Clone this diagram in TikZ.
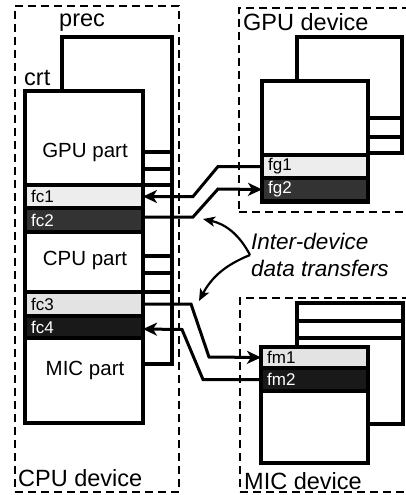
\documentclass[tikz,border=0pt]{standalone}
\usepackage{fontspec}
\setmainfont{Liberation Sans}
\usetikzlibrary{arrows.meta,positioning}

\begin{document}
\begin{tikzpicture}[x=1pt,y=-1pt,>={Stealth[length=14pt,width=13pt,inset=4pt]},
	device/.style={draw,line width=2.2pt,dash pattern=on 8pt off 5pt,anchor=north west,inner sep=0,outer sep=0},
	page/.style={draw,fill=white,line width=4pt,anchor=north west,inner sep=0,outer sep=0},
	lite/.style={page,fill=black!7},
	dark/.style={page,fill=black!80},
	tag/.style={anchor=west,xshift=6pt,inner sep=0,font=\fontsize{17}{19}\selectfont},
	lbl/.style={anchor=base west,inner sep=0,font=\fontsize{23.5}{27}\selectfont},
	part/.style={anchor=base,inner sep=0,font=\fontsize{20.5}{24}\selectfont},
	rung/.style={line width=4pt},
	xfer/.style={->,line width=3pt},
	hint/.style={-{Stealth[length=12pt,width=10pt,inset=3pt]},line width=2.2pt}]
	\useasboundingbox (0,0) rectangle (406,495);
	
	% devices
	\node[device,minimum width=164,minimum height=486] (cpudev) at (15,6) {};
	\node[device,minimum width=172,minimum height=204] (gpudev) at (239,8) {};
	\node[device,minimum width=170,minimum height=194] (micdev) at (240,298) {};
	\node[lbl] (cpulbl) at (18,486) {CPU device};
	\node[lbl] (gpulbl) at (243,31) {GPU device};
	\node[lbl] (miclbl) at (244,489) {MIC device};
	
	% CPU pages
	\node[page,minimum width=110,minimum height=327] (prec) at (62,37) {};
	\node[lbl] (preclbl) at (59,27) {prec};
	\node[page,minimum width=118,minimum height=332] (crt) at (25,91) {};
	\node[lbl] (crtlbl) at (24,85) {crt};
	\foreach \y in {152,169,185,256,273,292}
		\draw[rung] (crt.east |- 0,\y) -- (prec.east |- 0,\y);
	\node[part] (gpupart) at (85,157) {GPU part};
	\node[part] (cpupart) at (85,265) {CPU part};
	\node[part] (micpart) at (85,375) {MIC part};
	\node[lite,minimum width=118,minimum height=23,label={[tag]west:fc1}] (fc1) at (25,185) {};
	\node[dark,minimum width=118,minimum height=24,label={[tag,white]west:fc2}] (fc2) at (25,208) {};
	\node[lite,fill=black!11,minimum width=118,minimum height=24,label={[tag]west:fc3}] (fc3) at (25,292) {};
	\node[dark,fill=black!90,minimum width=118,minimum height=22,label={[tag,white]west:fc4}] (fc4) at (25,316) {};
	
	% GPU pages
	\node[page,minimum width=105,minimum height=116] (gback) at (297,37) {};
	\node[page,minimum width=106,minimum height=121] (gfront) at (262,81) {};
	\foreach \y in {118,137}
		\draw[rung] (gfront.east |- 0,\y) -- (gback.east |- 0,\y);
	\node[lite,minimum width=106,minimum height=23,label={[tag]west:fg1}] (fg1) at (262,155) {};
	\node[dark,minimum width=106,minimum height=23,label={[tag,white]west:fg2}] (fg2) at (262,178) {};
	
	% MIC pages
	\node[page,minimum width=106,minimum height=121] (mback) at (297,303) {};
	\foreach \y in {321,338}
		\draw[rung] (mback.west |- 0,\y) -- (mback.east |- 0,\y);
	\node[page,minimum width=107,minimum height=116] (mfront) at (261,347) {};
	\node[lite,fill=black!11,minimum width=107,minimum height=21,label={[tag]west:fm1}] (fm1) at (261,347) {};
	\node[dark,fill=black!90,minimum width=107,minimum height=23,label={[tag,white]west:fm2}] (fm2) at (261,368) {};
	
	% transfers
	\draw[xfer] (fg1.west) -- ++(-44,0) -- ++(-25,30) -- (fc1.east);
	\draw[xfer] ([yshift=3pt]fc2.east) -- ++(50,0) -- ++(25,-28) -- (fg2.west);
	\draw[xfer] (fc3.east) -- ++(48,0) -- ++(18,53) -- (fm1.west);
	\draw[xfer] (fm2.west) -- ++(-58,0) -- ++(-21,-50) -- ([yshift=-2pt]fc4.east);
	
	% note
	\coordinate (src) at (250,255);
	\coordinate (tipA) at (203,219);
	\coordinate (tipB) at (199,301);
	\node[anchor=west,inner sep=0,align=left,font=\fontsize{22.5}{27}\selectfont\itshape] (note) [right=1pt of src] {Inter-device\\data transfers};
	\draw[hint] (src) to[bend right=25] (tipA);
	\draw[hint] (src) to[bend right=20] (tipB);
\end{tikzpicture}
\end{document}
